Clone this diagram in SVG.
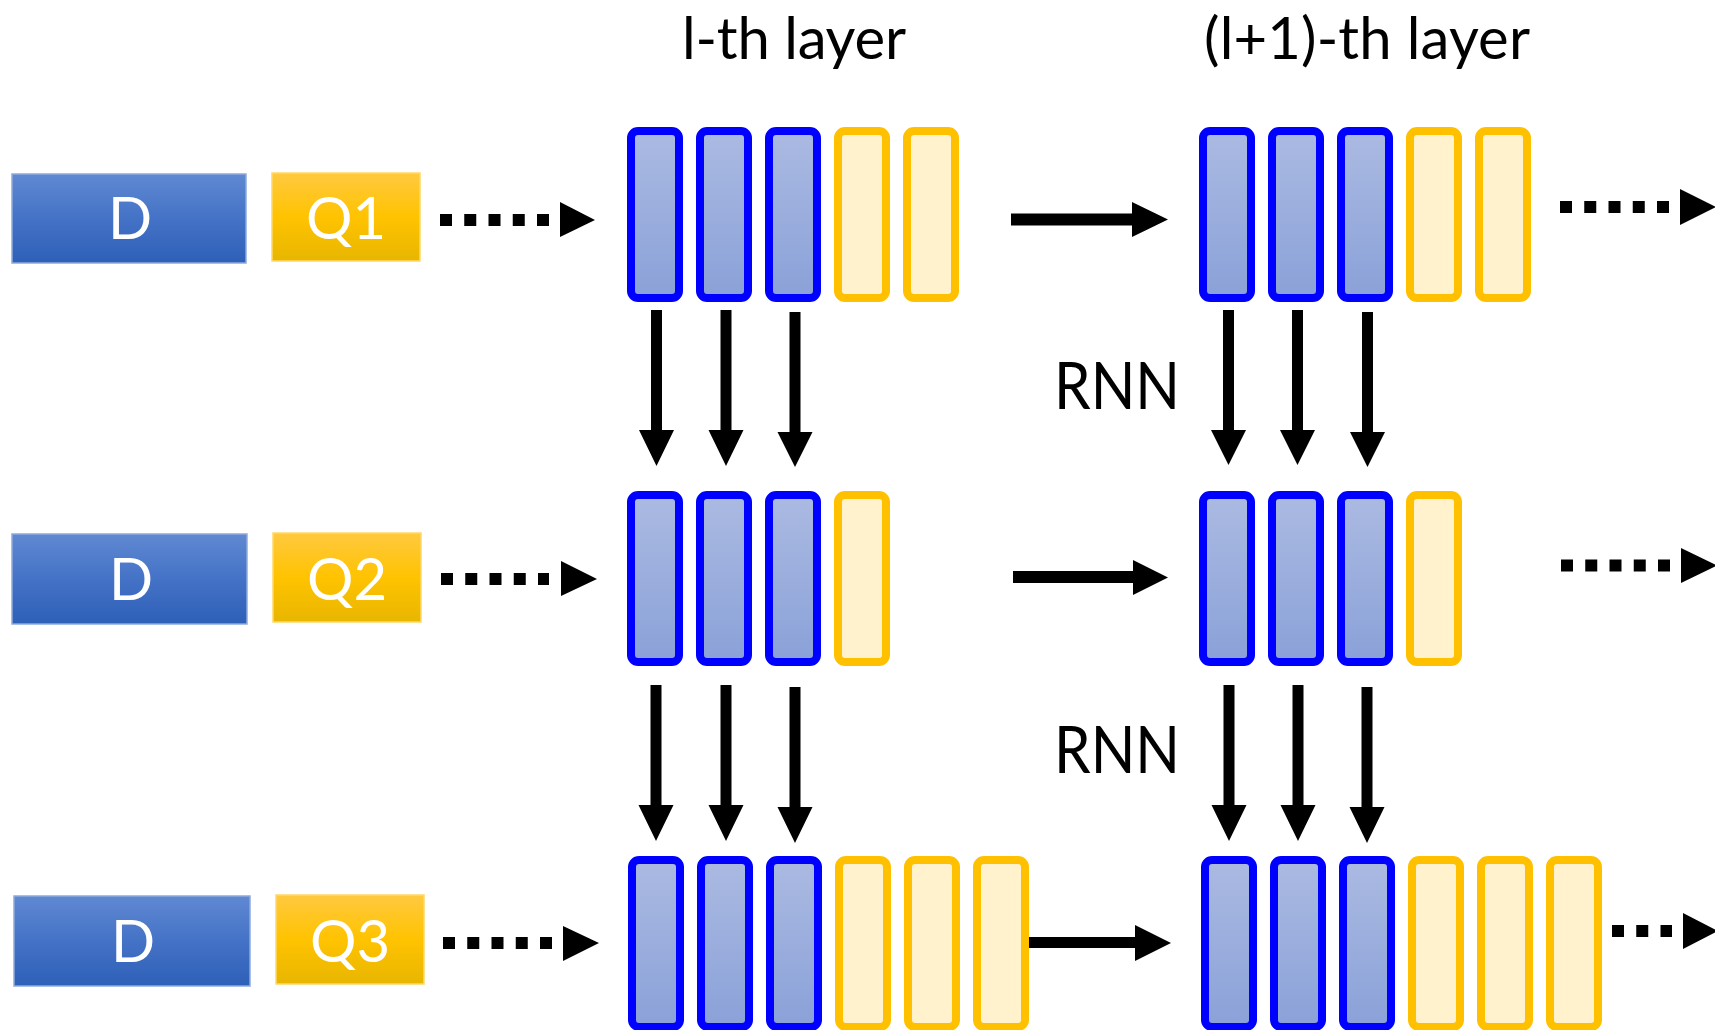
<svg xmlns="http://www.w3.org/2000/svg" width="1715" height="1030" viewBox="0 0 1715 1030">
<defs>
  <linearGradient id="gD" x1="0" y1="0" x2="0" y2="1">
    <stop offset="0" stop-color="#6089d2"/>
    <stop offset="0.5" stop-color="#4472c6"/>
    <stop offset="1" stop-color="#2e60b8"/>
  </linearGradient>
  <linearGradient id="gQ" x1="0" y1="0" x2="0" y2="1">
    <stop offset="0" stop-color="#ffc940"/>
    <stop offset="0.5" stop-color="#ffc300"/>
    <stop offset="1" stop-color="#e8b600"/>
  </linearGradient>
  <linearGradient id="gC" x1="0" y1="0" x2="0" y2="1">
    <stop offset="0" stop-color="#abbae2"/>
    <stop offset="1" stop-color="#8aa1d8"/>
  </linearGradient>
</defs>
<style>
  .d { fill: url(#gD); stroke: #8eaadb; stroke-width: 1.5; }
  .q { fill: url(#gQ); stroke: #ffd966; stroke-width: 1.5; }
  .bt { fill: #ffffff; font-family: Lato, "Open Sans", sans-serif; font-size: 58px; text-anchor: middle; }
  .title { fill: #000000; font-family: Lato, "Open Sans", sans-serif; font-size: 58px; text-anchor: middle; }
  .rnn { fill: #000000; font-family: Lato, "Open Sans", sans-serif; font-size: 66px; text-anchor: middle; }
  .cb { fill: url(#gC); stroke: #0000ff; stroke-width: 8; }
  .cy { fill: #fff2cc; stroke: #ffc000; stroke-width: 8; }
  .dash { stroke: #000; stroke-width: 12; stroke-dasharray: 12 12.25; fill: none; }
  .ah { fill: #000; }
</style>

<rect width="1715" height="1030" fill="#ffffff"/>

<g id="titles">
  <text class="title" x="794" y="59" textLength="224">l-th layer</text>
  <text class="title" x="1367" y="59" textLength="326">(l+1)-th layer</text>
</g>

<g id="rnn-labels">
  <text class="rnn" x="1117" y="409" textLength="126" lengthAdjust="spacingAndGlyphs">RNN</text>
  <text class="rnn" x="1117" y="773" textLength="126" lengthAdjust="spacingAndGlyphs">RNN</text>
</g>

<!-- Inputs -->
<g id="D1"><rect class="d" x="12" y="174" width="234" height="89"/><text class="bt" x="130" y="239">D</text></g>
<g id="Q1"><rect class="q" x="272" y="173" width="148" height="88"/><text class="bt" x="346" y="239">Q1</text></g>
<g id="D2"><rect class="d" x="12" y="534" width="235" height="90"/><text class="bt" x="131" y="600">D</text></g>
<g id="Q2"><rect class="q" x="273" y="533" width="148" height="89"/><text class="bt" x="347" y="600">Q2</text></g>
<g id="D3"><rect class="d" x="14" y="896" width="236" height="90"/><text class="bt" x="133" y="962">D</text></g>
<g id="Q3"><rect class="q" x="276" y="895" width="148" height="89"/><text class="bt" x="350" y="962">Q3</text></g>

<!-- Layer l, row 1 -->
<g id="L1R1">
  <rect class="cb" x="631" y="131" width="48" height="167" rx="7"/>
  <rect class="cb" x="700" y="131" width="48" height="167" rx="7"/>
  <rect class="cb" x="769" y="131" width="48" height="167" rx="7"/>
  <rect class="cy" x="838" y="131" width="48" height="167" rx="7"/>
  <rect class="cy" x="907" y="131" width="48" height="167" rx="7"/>
</g>
<!-- Layer l+1, row 1 -->
<g id="L2R1">
  <rect class="cb" x="1203" y="131" width="48" height="167" rx="7"/>
  <rect class="cb" x="1272" y="131" width="48" height="167" rx="7"/>
  <rect class="cb" x="1341" y="131" width="48" height="167" rx="7"/>
  <rect class="cy" x="1410" y="131" width="48" height="167" rx="7"/>
  <rect class="cy" x="1479" y="131" width="48" height="167" rx="7"/>
</g>
<!-- Layer l, row 2 -->
<g id="L1R2">
  <rect class="cb" x="631" y="495" width="48" height="167" rx="7"/>
  <rect class="cb" x="700" y="495" width="48" height="167" rx="7"/>
  <rect class="cb" x="769" y="495" width="48" height="167" rx="7"/>
  <rect class="cy" x="838" y="495" width="48" height="167" rx="7"/>
</g>
<!-- Layer l+1, row 2 -->
<g id="L2R2">
  <rect class="cb" x="1203" y="495" width="48" height="167" rx="7"/>
  <rect class="cb" x="1272" y="495" width="48" height="167" rx="7"/>
  <rect class="cb" x="1341" y="495" width="48" height="167" rx="7"/>
  <rect class="cy" x="1410" y="495" width="48" height="167" rx="7"/>
</g>
<!-- Layer l, row 3 -->
<g id="L1R3">
  <rect class="cb" x="632" y="860" width="48" height="167" rx="7"/>
  <rect class="cb" x="701" y="860" width="48" height="167" rx="7"/>
  <rect class="cb" x="770" y="860" width="48" height="167" rx="7"/>
  <rect class="cy" x="839" y="860" width="48" height="167" rx="7"/>
  <rect class="cy" x="908" y="860" width="48" height="167" rx="7"/>
  <rect class="cy" x="977" y="860" width="48" height="167" rx="7"/>
</g>
<!-- Layer l+1, row 3 -->
<g id="L2R3">
  <rect class="cb" x="1205" y="860" width="48" height="167" rx="7"/>
  <rect class="cb" x="1274" y="860" width="48" height="167" rx="7"/>
  <rect class="cb" x="1343" y="860" width="48" height="167" rx="7"/>
  <rect class="cy" x="1412" y="860" width="48" height="167" rx="7"/>
  <rect class="cy" x="1481" y="860" width="48" height="167" rx="7"/>
  <rect class="cy" x="1550" y="860" width="48" height="167" rx="7"/>
</g>

<g id="connectors">
  <!-- dotted input arrows -->
  <line class="dash" x1="440" y1="220" x2="549" y2="220"/>
  <polygon class="ah" points="560,202 595,220 560,237"/>
  <line class="dash" x1="441" y1="579" x2="549" y2="579"/>
  <polygon class="ah" points="561,561 597,579 561,596"/>
  <line class="dash" x1="443" y1="943" x2="552" y2="943"/>
  <polygon class="ah" points="563,926 599,943 563,961"/>

  <!-- dotted output arrows -->
  <line class="dash" x1="1560" y1="207" x2="1669" y2="207"/>
  <polygon class="ah" points="1680,189 1716,207 1680,225"/>
  <line class="dash" x1="1561" y1="565.5" x2="1670" y2="565.5"/>
  <polygon class="ah" points="1681,548 1717,565.5 1681,583"/>
  <line class="dash" x1="1612" y1="931" x2="1672" y2="931"/>
  <polygon class="ah" points="1683,913 1718,931 1683,949"/>

  <!-- solid horizontal arrows -->
  <polygon class="ah" points="1011,213.5 1132,213.5 1132,202 1168,219.5 1132,237 1132,225.5 1011,225.5"/>
  <polygon class="ah" points="1013,571 1133,571 1133,560 1168,577.5 1133,595 1133,583 1013,583"/>
  <polygon class="ah" points="1029,937 1135,937 1135,925 1171,943 1135,961 1135,948 1029,948"/>

  <!-- vertical arrows row1 to row2, layer l -->
  <polygon class="ah" points="651,310 662,310 662,430 674,430 656.5,466 639,430 651,430"/>
  <polygon class="ah" points="720.5,310 731.5,310 731.5,430 743.5,430 726,466 708.5,430 720.5,430"/>
  <polygon class="ah" points="789.5,312 800.5,312 800.5,432 812.5,432 795,467 777.5,432 789.5,432"/>
  <!-- layer l+1 -->
  <polygon class="ah" points="1223,310 1234,310 1234,430 1246,430 1228.5,465 1211,430 1223,430"/>
  <polygon class="ah" points="1292,310 1303,310 1303,430 1315,430 1297.5,465 1280,430 1292,430"/>
  <polygon class="ah" points="1362,312 1373,312 1373,432 1385,432 1367.5,467 1350,432 1362,432"/>

  <!-- vertical arrows row2 to row3, layer l -->
  <polygon class="ah" points="650.5,685 661.5,685 661.5,805 673.5,805 656,841 638.5,805 650.5,805"/>
  <polygon class="ah" points="720.5,685 731.5,685 731.5,805 743.5,805 726,841 708.5,805 720.5,805"/>
  <polygon class="ah" points="789.5,687 800.5,687 800.5,807 812.5,807 795,843 777.5,807 789.5,807"/>
  <!-- layer l+1 -->
  <polygon class="ah" points="1223.5,685 1234.5,685 1234.5,805 1246.5,805 1229,841 1211.5,805 1223.5,805"/>
  <polygon class="ah" points="1292.5,685 1303.5,685 1303.5,805 1315.5,805 1298,841 1280.5,805 1292.5,805"/>
  <polygon class="ah" points="1361.5,687 1372.5,687 1372.5,807 1384.5,807 1367,843 1349.5,807 1361.5,807"/>
</g>
</svg>
